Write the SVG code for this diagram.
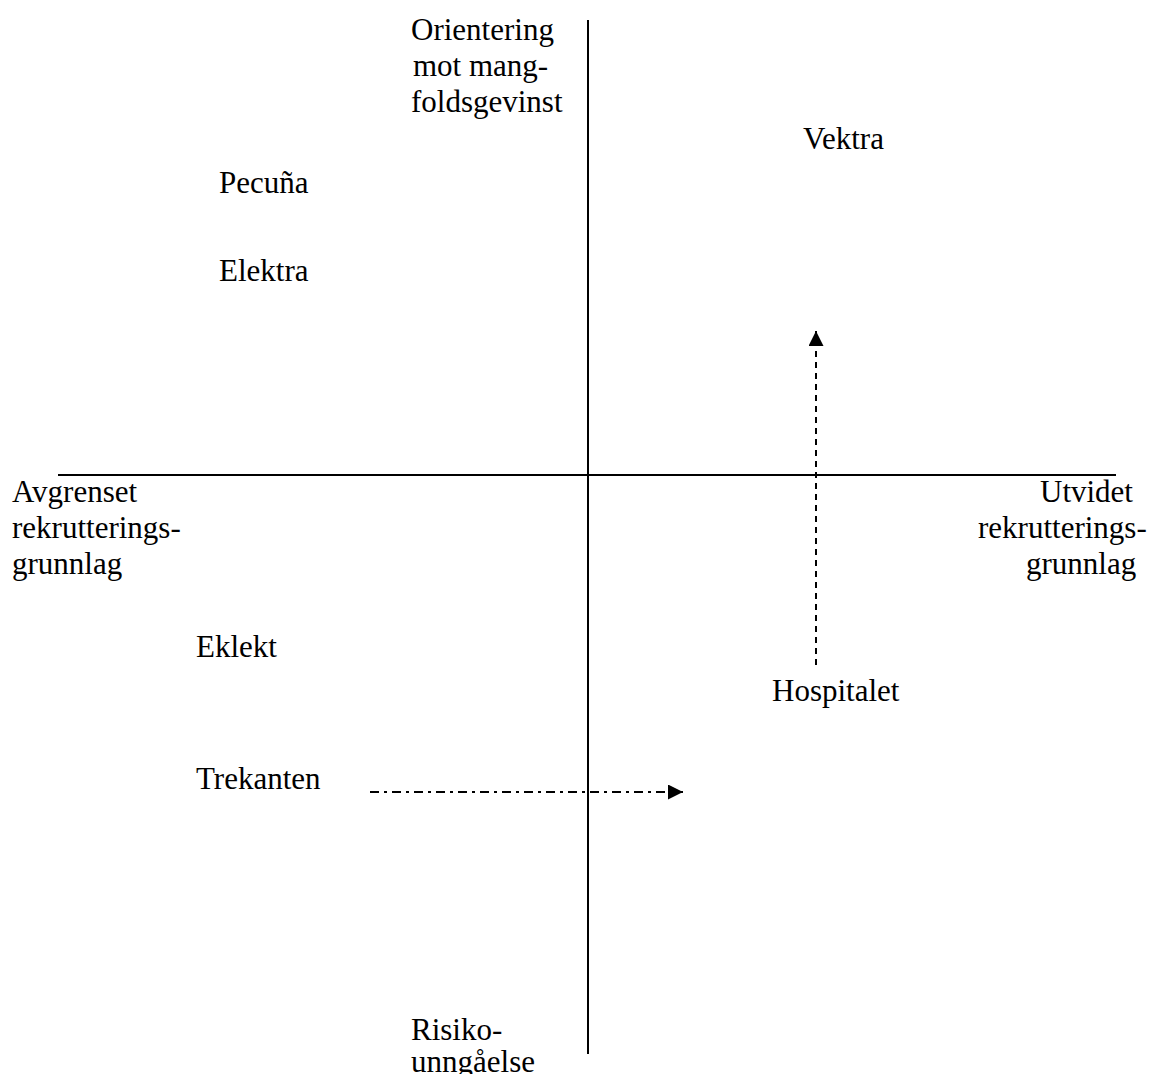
<svg xmlns="http://www.w3.org/2000/svg" width="1150" height="1074" viewBox="0 0 1150 1074">
<style>
text{font-family:"Liberation Serif","Times New Roman",serif;font-size:31px;fill:#000}
.ax{stroke:#000;stroke-width:2;fill:none}
.c{stroke:#000;stroke-width:2;fill:none}
</style>
<defs>
<marker id="ah" viewBox="0 0 10 10" refX="10" refY="5" markerWidth="15" markerHeight="15" markerUnits="userSpaceOnUse" orient="auto"><path d="M0,0 L10,5 L0,10 Z" fill="#000"/></marker>
</defs>
<rect width="1150" height="1074" fill="#fff"/>
<g id="axes">
<line class="ax" x1="588" y1="20" x2="588" y2="1054"/>
<line class="ax" x1="58" y1="475" x2="1116" y2="475"/>
</g>
<g id="connectors">
<line class="c" x1="816" y1="665" x2="816" y2="331" stroke-dasharray="6,5" marker-end="url(#ah)"/>
<line class="c" x1="370" y1="792" x2="683" y2="792" stroke-dasharray="9,5,3,5" marker-end="url(#ah)"/>
</g>
<g id="label-top"><text x="411" y="40">Orientering</text><text x="413" y="76">mot mang-</text><text x="411" y="112">foldsgevinst</text></g>
<g id="label-bottom"><text x="411" y="1040">Risiko-</text><text x="411" y="1072">unngåelse</text></g>
<g id="label-left"><text x="12" y="502">Avgrenset</text><text x="12" y="538">rekrutterings-</text><text x="12" y="574">grunnlag</text></g>
<g id="label-right"><text x="1040" y="502">Utvidet</text><text x="978" y="538">rekrutterings-</text><text x="1026" y="574">grunnlag</text></g>
<g id="node-vektra"><text x="803" y="149">Vektra</text></g>
<g id="node-pecuna"><text x="219" y="193">Pecuña</text></g>
<g id="node-elektra"><text x="219" y="281">Elektra</text></g>
<g id="node-eklekt"><text x="196" y="657">Eklekt</text></g>
<g id="node-hospitalet"><text x="772" y="701">Hospitalet</text></g>
<g id="node-trekanten"><text x="196" y="789">Trekanten</text></g>
</svg>
